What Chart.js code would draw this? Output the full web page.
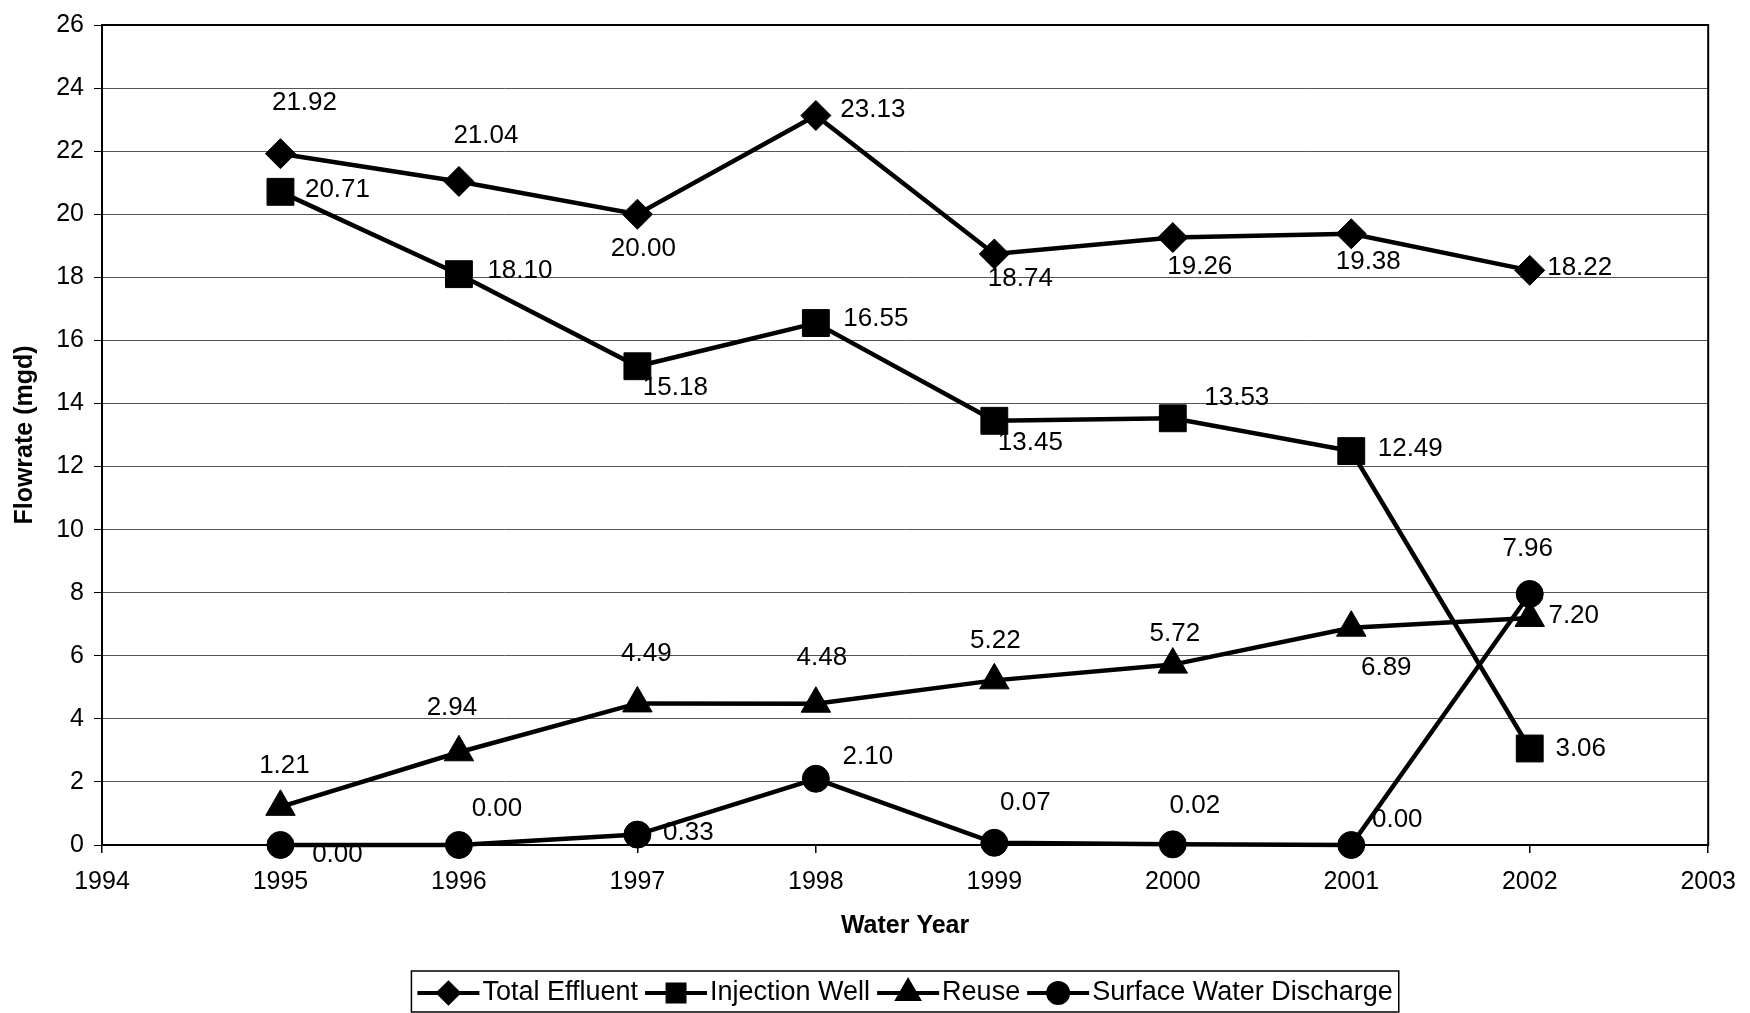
<!DOCTYPE html>
<html>
<head>
<meta charset="utf-8">
<script src="https://cdn.jsdelivr.net/npm/chart.js@4/dist/chart.umd.min.js"></script>
<style>
  html, body { margin: 0; padding: 0; background: #fff; }
</style>
</head>
<body>
<canvas id="chart" width="1750" height="1013"></canvas>
<script>
// water years and flowrates (mgd)
const years = [1995, 1996, 1997, 1998, 1999, 2000, 2001, 2002];
const totalEffluent = [21.92, 21.04, 20.00, 23.13, 18.74, 19.26, 19.38, 18.22];
const injectionWell = [20.71, 18.10, 15.18, 16.55, 13.45, 13.53, 12.49, 3.06];
const reuse = [1.21, 2.94, 4.49, 4.48, 5.22, 5.72, 6.89, 7.20];
const surfaceWater = [0.00, 0.00, 0.33, 2.10, 0.07, 0.02, 0.00, 7.96];
const seriesNames = ['Total Effluent', 'Injection Well', 'Reuse', 'Surface Water Discharge'];
const yTicks = { min: 0, max: 26, step: 2 };
const xTicks = { min: 1994, max: 2003, step: 1 };

// label placement next to each point (px), like the hand-moved Excel labels
const effluentLabelOffsets = [[24, -51], [27, -46], [6, 35], [57, -6], [26, 25], [27, 29], [17, 28], [50, -3]];
const injectionLabelOffsets = [[57, -2], [61, -3], [38, 22], [60, -4], [36, 22], [64, -20], [59, -2], [51, 0]];
const reuseLabelOffsets = [[4, -41], [-7, -44], [9, -50], [6, -46], [1, -40], [2, -31], [35, 40], [44, -2]];
const surfaceLabelOffsets = [[57, 10], [38, -36], [51, -2], [52, -22], [31, -40], [22, -39], [46, -25], [-2, -45]];

const FONT = '"Liberation Sans", Arial, sans-serif';

const toPoints = vals => years.map((yr, i) => ({ x: yr, y: vals[i] }));

function series(label, vals, style, radius, offsets) {
  return {
    label,
    data: toPoints(vals),
    borderColor: '#000',
    borderWidth: 4.5,
    backgroundColor: '#000',
    pointStyle: style,
    pointRadius: radius,
    pointHoverRadius: radius,
    pointBackgroundColor: '#000',
    pointBorderColor: '#000',
    pointBorderWidth: 1,
    tension: 0,
    clip: false,
    labelOffsets: offsets
  };
}

const pointLabels = {
  id: 'pointLabels',
  afterDatasetsDraw(chart) {
    const ctx = chart.ctx;
    ctx.save();
    ctx.font = '26px ' + FONT;
    ctx.fillStyle = '#000';
    ctx.textAlign = 'center';
    ctx.textBaseline = 'middle';
    chart.data.datasets.forEach((ds, i) => {
      chart.getDatasetMeta(i).data.forEach((pt, j) => {
        const [dx, dy] = ds.labelOffsets[j];
        ctx.fillText(ds.data[j].y.toFixed(2), pt.x + dx, pt.y + dy);
      });
    });
    ctx.restore();
  }
};

const plotFrame = {
  id: 'plotFrame',
  beforeDatasetsDraw(chart) {
    const { left, top, width, height } = chart.chartArea;
    const ctx = chart.ctx;
    ctx.save();
    ctx.strokeStyle = '#000';
    ctx.lineWidth = 2;
    ctx.strokeRect(left, top, width, height);
    ctx.restore();
  }
};

// boxed legend with line + marker samples
const boxLegend = {
  id: 'boxLegend',
  afterDraw(chart) {
    const ctx = chart.ctx;
    const markers = [['rectRot', 10], ['rect', 12], ['triangle', 12], ['circle', 10]];
    ctx.save();
    ctx.font = '27px ' + FONT;
    const lineLen = 62, gap = 3, itemGap = 7, pad = 6;
    const widths = seriesNames.map(n => ctx.measureText(n).width);
    const total = widths.reduce((a, w) => a + lineLen + gap + w, 0) + itemGap * 3 + pad * 2;
    const cx = (chart.chartArea.left + chart.chartArea.right) / 2;
    const boxL = cx - total / 2, boxT = 971, boxH = 41, midY = 993;
    ctx.strokeStyle = '#000';
    ctx.lineWidth = 1.5;
    ctx.strokeRect(boxL, boxT, total, boxH);
    let x = boxL + pad;
    seriesNames.forEach((name, i) => {
      ctx.strokeStyle = '#000';
      ctx.lineWidth = 4;
      ctx.beginPath();
      ctx.moveTo(x, midY);
      ctx.lineTo(x + lineLen, midY);
      ctx.stroke();
      ctx.fillStyle = '#000';
      Chart.helpers.drawPoint(ctx, { pointStyle: markers[i][0], radius: markers[i][1], borderWidth: 1 }, x + lineLen / 2, midY);
      ctx.fill();
      x += lineLen + gap;
      ctx.fillStyle = '#000';
      ctx.textAlign = 'left';
      ctx.textBaseline = 'middle';
      ctx.fillText(name, x, midY);
      x += widths[i] + itemGap;
    });
    ctx.restore();
  }
};

new Chart(document.getElementById('chart'), {
  type: 'line',
  data: {
    datasets: [
      series(seriesNames[0], totalEffluent, 'rectRot', 15, effluentLabelOffsets),
      series(seriesNames[1], injectionWell, 'rect', 19, injectionLabelOffsets),
      series(seriesNames[2], reuse, 'triangle', 17, reuseLabelOffsets),
      series(seriesNames[3], surfaceWater, 'circle', 13.5, surfaceLabelOffsets)
    ]
  },
  options: {
    responsive: false,
    animation: false,
    layout: { padding: { left: 0, right: 39, top: 20, bottom: 68 } },
    plugins: {
      legend: { display: false },
      tooltip: { enabled: false }
    },
    scales: {
      x: {
        type: 'linear',
        min: xTicks.min,
        max: xTicks.max,
        afterFit: s => { s.height = 100; },
        ticks: {
          stepSize: xTicks.step,
          color: '#000',
          padding: 14,
          font: { family: FONT, size: 25 },
          callback: v => String(v),
          maxRotation: 0
        },
        grid: { drawOnChartArea: false, drawTicks: true, tickLength: 8, color: '#000', tickColor: '#000', lineWidth: 1.5 },
        border: { color: '#000', width: 2 },
        title: { display: true, text: 'Water Year', color: '#000', font: { family: FONT, size: 25, weight: 'bold' }, padding: { top: 0, bottom: 4 } }
      },
      y: {
        min: yTicks.min,
        max: yTicks.max,
        afterFit: s => { s.width = 102; },
        ticks: {
          stepSize: yTicks.step,
          color: '#000',
          padding: 10,
          font: { family: FONT, size: 25 }
        },
        grid: { color: '#555', lineWidth: 1, tickLength: 8, tickColor: '#000' },
        border: { color: '#000', width: 2 },
        title: { display: true, text: 'Flowrate (mgd)', color: '#000', font: { family: FONT, size: 25, weight: 'bold' }, padding: { top: 10, bottom: 0 } }
      }
    }
  },
  plugins: [plotFrame, pointLabels, boxLegend]
});
</script>
</body>
</html>
